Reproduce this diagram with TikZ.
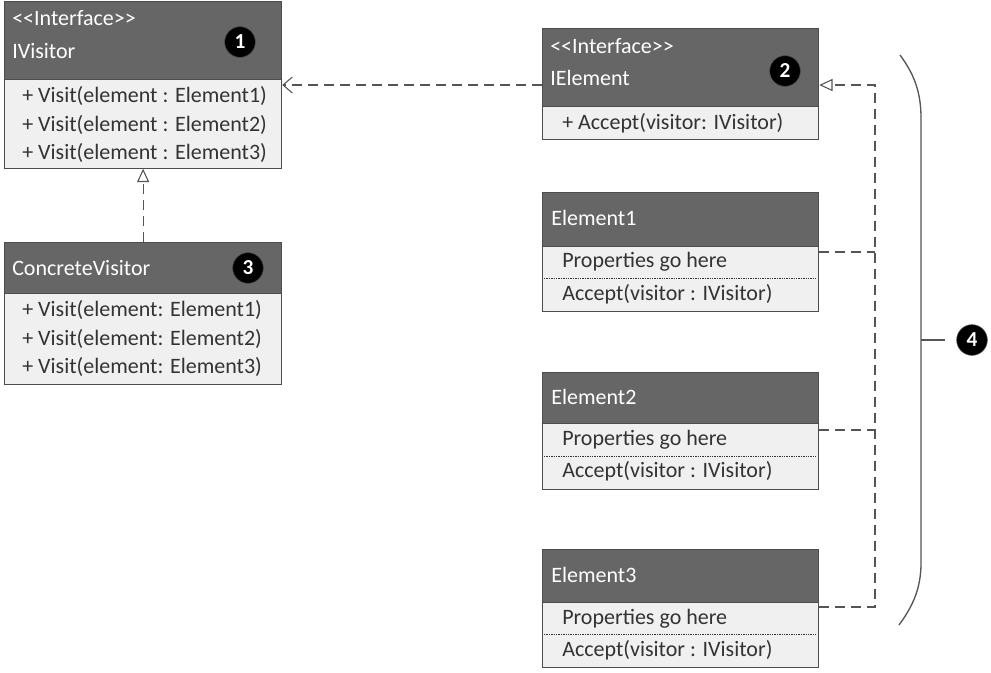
\documentclass[tikz,border=0pt]{standalone}
\usepackage{fontspec}
\setmainfont{Carlito}
\usetikzlibrary{arrows.meta}
\definecolor{hdr}{HTML}{666666}
\definecolor{bdy}{HTML}{F0F0F0}
\definecolor{brd}{HTML}{4D4D4D}
\definecolor{txt}{HTML}{333333}
\definecolor{lnk}{HTML}{555555}
\tikzset{
  hbox/.style={rectangle, draw=brd, fill=hdr, line width=0.9pt, anchor=north west, inner sep=0pt},
  bbox/.style={rectangle, draw=brd, fill=bdy, line width=0.9pt, anchor=north west, inner sep=0pt},
  htext/.style={anchor=west, inner sep=0pt, text=white, font=\fontsize{16.5}{18}\selectfont},
  btext/.style={anchor=west, inner sep=0pt, text=txt, font=\fontsize{16.5}{18}\selectfont},
  badge/.style={circle, fill=black, draw=black!70, minimum size=23pt, inner sep=0pt, text=white, font=\bfseries\fontsize{16}{17}\selectfont},
  dashlink/.style={draw=lnk, line width=0.8pt, dash pattern=on 7.5pt off 4.5pt},
  sepline/.style={draw=txt, line width=0.6pt, dash pattern=on 1pt off 0.8pt},
}
\begin{document}
\begin{tikzpicture}[x=0.75pt, y=-0.75pt]
\useasboundingbox (0,0) rectangle (991,672);
% ---------- IVisitor
\node[hbox, minimum width=207.75pt, minimum height=58.5pt] (ivh) at (4,0.5) {};
\node[bbox, minimum width=207.75pt, minimum height=66.75pt] (ivb) at (4,78.5) {};
\node[htext] (ivs) at (12,18) {<{}<Interface>{}>};
\node[htext] (ivn) at (12,51) {IVisitor};
\node[badge] (b1) at (240,42) {1};
\node[btext] (ivm1) at (22,96) {+ Visit(element : Element1)};
\node[btext] (ivm2) at (22,125) {+ Visit(element : Element2)};
\node[btext] (ivm3) at (22,153) {+ Visit(element : Element3)};
% ---------- ConcreteVisitor
\node[hbox, minimum width=207.75pt, minimum height=38.25pt] (cvh) at (4,242) {};
\node[bbox, minimum width=207.75pt, minimum height=68.25pt] (cvb) at (4,293) {};
\node[htext] (cvn) at (12,268) {ConcreteVisitor};
\node[badge] (b3) at (248,268) {3};
\node[btext] (cvm1) at (22,310) {+ Visit(element: Element1)};
\node[btext] (cvm2) at (22,339) {+ Visit(element: Element2)};
\node[btext] (cvm3) at (22,367) {+ Visit(element: Element3)};
% ---------- IElement
\node[hbox, minimum width=207pt, minimum height=58.5pt] (ieh) at (542,28) {};
\node[bbox, minimum width=207pt, minimum height=24.75pt] (ieb) at (542,106) {};
\node[htext] (ies) at (550,46) {<{}<Interface>{}>};
\node[htext] (ien) at (550,78) {IElement};
\node[badge] (b2) at (785,71) {2};
\node[btext] (iem) at (562,123) {+ Accept(visitor: IVisitor)};
% ---------- Element1
\node[hbox, minimum width=207pt, minimum height=40.5pt] (e1h) at (542,192) {};
\node[bbox, minimum width=207pt, minimum height=48.75pt] (e1b) at (542,246) {};
\node[htext] (e1n) at (551,218) {Element1};
\node[btext] (e1p) at (562,262) {Properties go here};
\node[btext] (e1a) at (562,294) {Accept(visitor : IVisitor)};
\draw[sepline] (544,278) -- (816,278);
% ---------- Element2
\node[hbox, minimum width=207pt, minimum height=38.25pt] (e2h) at (542,372) {};
\node[bbox, minimum width=207pt, minimum height=49.5pt] (e2b) at (542,423) {};
\node[htext] (e2n) at (551,397) {Element2};
\node[btext] (e2p) at (562,440) {Properties go here};
\node[btext] (e2a) at (562,471) {Accept(visitor : IVisitor)};
\draw[sepline] (544,456) -- (816,456);
% ---------- Element3
\node[hbox, minimum width=207pt, minimum height=39.75pt] (e3h) at (542,549) {};
\node[bbox, minimum width=207pt, minimum height=48.75pt] (e3b) at (542,602) {};
\node[htext] (e3n) at (551,575) {Element3};
\node[btext] (e3p) at (562,619) {Properties go here};
\node[btext] (e3a) at (562,650) {Accept(visitor : IVisitor)};
\draw[sepline] (544,634) -- (816,634);
% ---------- connectors
\coordinate (ivin) at (ivh.east |- 0,85);
\coordinate (iein) at (ieh.east |- 0,85);
\coordinate (ieout) at (ieh.west |- 0,85);
\coordinate (trunk) at (875,85);
\draw[dashlink, -{Straight Barb[length=7pt, width=12pt, line width=0.8pt]}] (ieout) -- (ivin);
\draw[dashlink, -{Triangle[open, length=10pt, width=9pt, line width=0.8pt]}] (cvh.north) -- (ivb.south);
\draw[dashlink, -{Triangle[open, length=10pt, width=9pt, line width=0.8pt]}] (e3b.east |- 0,607) -| (trunk) -- (iein);
\draw[dashlink] (e1b.east |- 0,252) -- (trunk |- 0,252);
\draw[dashlink] (e2b.east |- 0,430) -- (trunk |- 0,430);
% ---------- brace
\coordinate (bt) at (900,55);
\coordinate (bb) at (899,625);
\coordinate (bm) at (921,340);
\draw[draw=lnk, line width=1pt] (bt) .. controls (914,74) and (921,92) .. (921,118) -- (921,563) .. controls (921,588) and (913,606) .. (bb);
\node[badge] (b4) at (972,340) {4};
\draw[draw=lnk, line width=0.8pt] (bm) -- (945,340);
\end{tikzpicture}
\end{document}
